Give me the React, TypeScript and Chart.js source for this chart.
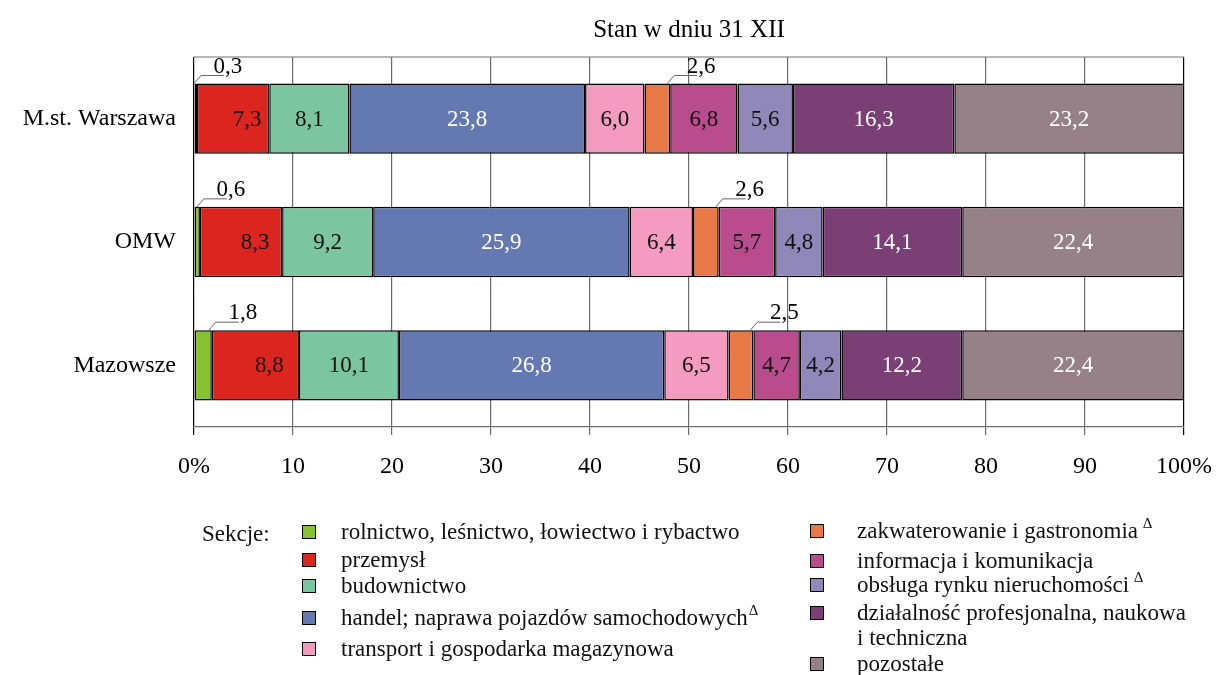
import React, { useEffect, useRef } from "react";
import { Chart, registerables } from "chart.js";

Chart.register(...registerables);

// ---------- data ----------
const titleText = "Stan w dniu 31 XII";
const categories = ["M.st. Warszawa", "OMW", "Mazowsze"];

const sectionNames = [
  "rolnictwo, leśnictwo, łowiectwo i rybactwo",
  "przemysł",
  "budownictwo",
  "handel; naprawa pojazdów samochodowych",
  "transport i gospodarka magazynowa",
  "zakwaterowanie i gastronomia",
  "informacja i komunikacja",
  "obsługa rynku nieruchomości",
  "działalność profesjonalna, naukowa\ni techniczna",
  "pozostałe",
];
const sectionMarks = ["", "", "", "Δ", "", " Δ", "", " Δ", "", ""];
const legendTitle = "Sekcje:";

const rolnictwo = [0.3, 0.6, 1.8];
const przemysl = [7.3, 8.3, 8.8];
const budownictwo = [8.1, 9.2, 10.1];
const handel = [23.8, 25.9, 26.8];
const transport = [6.0, 6.4, 6.5];
const zakwaterowanie = [2.6, 2.6, 2.5];
const informacja = [6.8, 5.7, 4.7];
const obsluga = [5.6, 4.8, 4.2];
const dzialalnosc = [16.3, 14.1, 12.2];
const pozostale = [23.2, 22.4, 22.4];

const seriesValues = [
  rolnictwo, przemysl, budownictwo, handel, transport,
  zakwaterowanie, informacja, obsluga, dzialalnosc, pozostale,
];

const xTickLabels = ["0%", "10", "20", "30", "40", "50", "60", "70", "80", "90", "100%"];

// ---------- styles ----------
const FONT = "'Liberation Serif', 'Times New Roman', serif";
const sectionColors = [
  "#86C232", "#DC251E", "#7BC6A0", "#6478B1", "#F39CC0",
  "#E87946", "#B94C8D", "#8F88B9", "#7A3F75", "#978188",
];
const labelColors = ["#000", "#111", "#111", "#fff", "#111", "#111", "#111", "#111", "#fff", "#fff"];
const calloutSeries = [true, false, false, false, false, true, false, false, false, false];
const labelShiftX = [0, 14, 0, 0, 0, 0, 0, 0, 0, 0];

const legendLayout = {
  titleX: 202, titleBaseline: 541,
  cols: [{ boxX: 302, textX: 341 }, { boxX: 810, textX: 857 }],
  rows: [
    { col: 0, baselines: [539] },
    { col: 0, baselines: [567] },
    { col: 0, baselines: [593] },
    { col: 0, baselines: [625] },
    { col: 0, baselines: [656] },
    { col: 1, baselines: [538] },
    { col: 1, baselines: [568] },
    { col: 1, baselines: [592] },
    { col: 1, baselines: [620, 645] },
    { col: 1, baselines: [671] },
  ],
  box: 14,
  fontSize: 23,
};

const fmt = (v: number) => v.toFixed(1).replace(".", ",");

const segmentLabelsPlugin = {
  id: "segmentLabels",
  afterDatasetsDraw(chart: any) {
    const ctx = chart.ctx;
    ctx.save();
    ctx.font = `23px ${FONT}`;
    ctx.textBaseline = "middle";
    ctx.textAlign = "center";
    chart.data.datasets.forEach((ds: any, di: number) => {
      const meta = chart.getDatasetMeta(di);
      meta.data.forEach((el: any, i: number) => {
        const v = ds.data[i];
        const p = el.getProps(["x", "y", "base", "height"], true);
        const left = Math.min(p.x, p.base);
        const right = Math.max(p.x, p.base);
        if (calloutSeries[di]) {
          const top = p.y - p.height / 2;
          const sx = right - 3;
          ctx.strokeStyle = "#666";
          ctx.lineWidth = 1;
          ctx.beginPath();
          ctx.moveTo(sx, top);
          ctx.lineTo(sx + 7, top - 8);
          ctx.lineTo(sx + 30, top - 8);
          ctx.stroke();
          ctx.fillStyle = "#000";
          ctx.fillText(fmt(v), sx + 34, top - 17);
        } else {
          ctx.fillStyle = labelColors[di];
          ctx.fillText(fmt(v), (left + right) / 2 + labelShiftX[di], p.y + 1);
        }
      });
    });
    ctx.restore();
  },
};

const frameAndLegendPlugin = {
  id: "frameAndLegend",
  beforeDatasetsDraw(chart: any) {
    const { ctx, chartArea } = chart;
    ctx.save();
    ctx.strokeStyle = "#707070";
    ctx.lineWidth = 1.2;
    ctx.beginPath();
    ctx.moveTo(chartArea.left, chartArea.top);
    ctx.lineTo(chartArea.right, chartArea.top);
    ctx.stroke();
    ctx.restore();
  },
  afterDraw(chart: any) {
    const ctx = chart.ctx;
    const L = legendLayout;
    ctx.save();
    ctx.fillStyle = "#111";
    ctx.textBaseline = "alphabetic";
    ctx.textAlign = "left";
    ctx.font = `${L.fontSize}px ${FONT}`;
    ctx.fillText(legendTitle, L.titleX, L.titleBaseline);
    chart.data.datasets.forEach((ds: any, di: number) => {
      const row = L.rows[di];
      const col = L.cols[row.col];
      const b0 = row.baselines[0];
      ctx.fillStyle = ds.backgroundColor;
      ctx.fillRect(col.boxX, b0 - 7 - L.box / 2, L.box, L.box);
      ctx.strokeStyle = "#000";
      ctx.lineWidth = 1;
      ctx.strokeRect(col.boxX + 0.5, b0 - 7 - L.box / 2 + 0.5, L.box - 1, L.box - 1);
      const lines = String(ds.label).split("\n");
      ctx.fillStyle = "#111";
      lines.forEach((ln: string, li: number) => {
        ctx.font = `${L.fontSize}px ${FONT}`;
        ctx.fillText(ln, col.textX, row.baselines[li]);
        if (li === lines.length - 1 && sectionMarks[di]) {
          const w = ctx.measureText(ln).width;
          ctx.font = `15px ${FONT}`;
          ctx.fillText(sectionMarks[di], col.textX + w + 1, row.baselines[li] - 10);
        }
      });
    });
    ctx.restore();
  },
};

export default function App() {
  const ref = useRef<HTMLCanvasElement | null>(null);
  useEffect(() => {
    if (!ref.current) return;
    const chart = new Chart(ref.current, {
      type: "bar",
      data: {
        labels: categories,
        datasets: seriesValues.map((vals, i) => ({
          label: sectionNames[i],
          data: vals,
          backgroundColor: sectionColors[i],
          borderColor: "#000",
          borderWidth: 1.5,
          borderSkipped: false,
          barPercentage: 0.57,
          categoryPercentage: 1,
        })),
      },
      options: {
        indexAxis: "y",
        responsive: false,
        animation: false,
        devicePixelRatio: 1,
        layout: { padding: { left: 0, right: 33, top: 0, bottom: 188 } },
        plugins: {
          legend: { display: false },
          tooltip: { enabled: false },
          title: {
            display: true,
            text: titleText,
            fullSize: false,
            color: "#000",
            font: { family: FONT, size: 25, weight: "normal", lineHeight: 1.2 },
            padding: { top: 15, bottom: 12 },
          },
        },
        scales: {
          x: {
            stacked: true,
            min: 0,
            max: 100,
            ticks: {
              stepSize: 10,
              color: "#000",
              padding: 17,
              maxRotation: 0,
              font: { family: FONT, size: 24 },
              callback: (_v: any, i: number) => xTickLabels[i],
            },
            grid: {
              color: (c: any) => (c.tick && (c.tick.value === 0 || c.tick.value === 100) ? "#000" : "#6a6a6a"),
              lineWidth: 1.2,
              tickLength: 8,
              drawTicks: true,
            },
            border: { display: true, color: "#707070", width: 1.2 },
            afterFit: (s: any) => { s.height = 60; s.paddingLeft = 0; s.paddingRight = 0; },
          },
          y: {
            stacked: true,
            ticks: { color: "#000", padding: 18, font: { family: FONT, size: 24 } },
            grid: { display: false, drawTicks: false },
            border: { display: false },
            afterFit: (s: any) => { s.width = 194; s.paddingTop = 0; s.paddingBottom = 0; },
          },
        },
      },
      plugins: [segmentLabelsPlugin, frameAndLegendPlugin],
    } as any);
    return () => chart.destroy();
  }, []);
  return (
    <div style={{ position: "absolute", left: 0, top: 0, width: 1217, height: 675, background: "#fff" }}>
      <canvas ref={ref} width={1217} height={675} />
    </div>
  );
}
